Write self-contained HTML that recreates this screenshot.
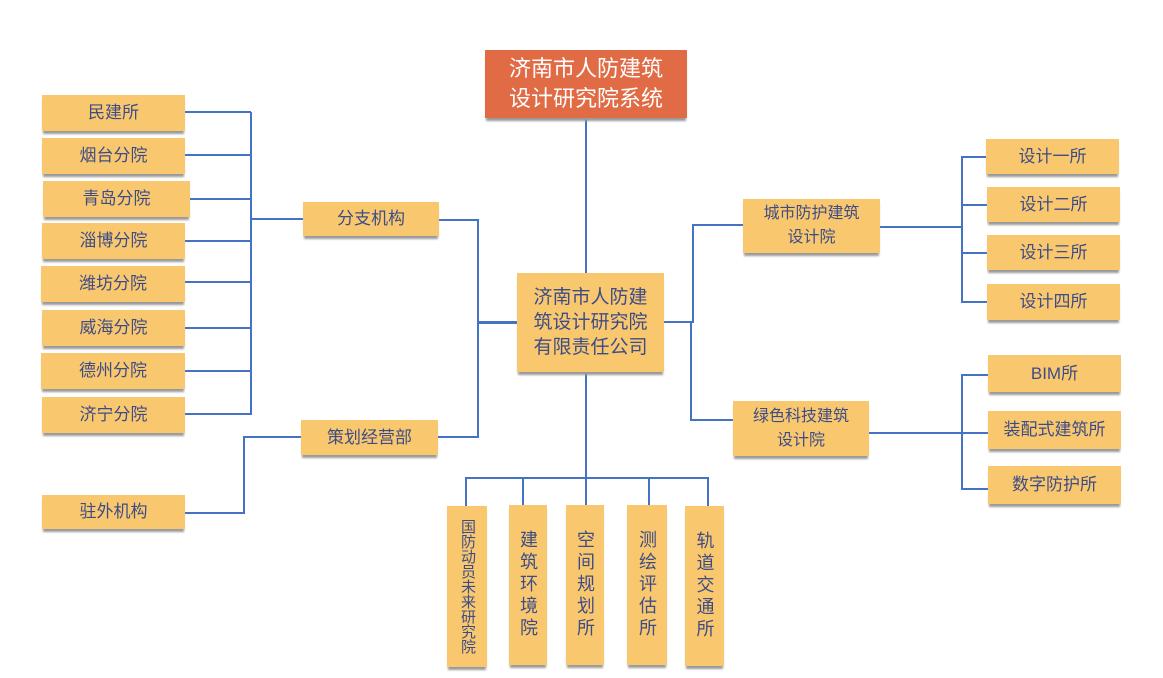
<!DOCTYPE html>
<html><head><meta charset="utf-8"><style>
body{margin:0;width:1163px;height:678px;background:#fff;position:relative;overflow:hidden;font-family:"Liberation Sans","Noto Sans CJK SC",sans-serif;}
.b{position:absolute;background:#F9C86E;color:#3E4C86;font-size:17px;display:flex;align-items:center;justify-content:center;text-align:center;line-height:24px;box-shadow:0 4px 2px -1px #9a9a9a;box-sizing:border-box}
.v{writing-mode:vertical-rl;letter-spacing:4px;line-height:20px;font-size:18px}
.l{position:absolute;background:#4472C4}
</style></head><body>
<div class="l" style="left:585px;top:118px;width:2px;height:155px"></div>
<div class="l" style="left:250px;top:112px;width:2px;height:303px"></div>
<div class="l" style="left:185px;top:111px;width:66px;height:2px"></div>
<div class="l" style="left:185px;top:154px;width:66px;height:2px"></div>
<div class="l" style="left:190px;top:198px;width:61px;height:2px"></div>
<div class="l" style="left:185px;top:240px;width:66px;height:2px"></div>
<div class="l" style="left:185px;top:281px;width:66px;height:2px"></div>
<div class="l" style="left:185px;top:327px;width:66px;height:2px"></div>
<div class="l" style="left:185px;top:370px;width:66px;height:2px"></div>
<div class="l" style="left:185px;top:413px;width:66px;height:2px"></div>
<div class="l" style="left:251px;top:218px;width:52px;height:2px"></div>
<div class="l" style="left:439px;top:219px;width:40px;height:2px"></div>
<div class="l" style="left:477px;top:219px;width:2px;height:219px"></div>
<div class="l" style="left:438px;top:436px;width:41px;height:2px"></div>
<div class="l" style="left:478px;top:321px;width:39px;height:3px"></div>
<div class="l" style="left:185px;top:512px;width:60px;height:2px"></div>
<div class="l" style="left:243px;top:436px;width:2px;height:78px"></div>
<div class="l" style="left:243px;top:436px;width:58px;height:2px"></div>
<div class="l" style="left:585px;top:372px;width:2px;height:106px"></div>
<div class="l" style="left:465px;top:477px;width:244px;height:2px"></div>
<div class="l" style="left:465px;top:477px;width:2px;height:29px"></div>
<div class="l" style="left:522px;top:477px;width:2px;height:28px"></div>
<div class="l" style="left:585px;top:477px;width:2px;height:28px"></div>
<div class="l" style="left:648px;top:477px;width:2px;height:28px"></div>
<div class="l" style="left:707px;top:477px;width:2px;height:29px"></div>
<div class="l" style="left:664px;top:321px;width:30px;height:2px"></div>
<div class="l" style="left:692px;top:224px;width:2px;height:98px"></div>
<div class="l" style="left:692px;top:224px;width:51px;height:2px"></div>
<div class="l" style="left:690px;top:321px;width:2px;height:100px"></div>
<div class="l" style="left:690px;top:419px;width:43px;height:2px"></div>
<div class="l" style="left:880px;top:226px;width:82px;height:2px"></div>
<div class="l" style="left:961px;top:156px;width:2px;height:147px"></div>
<div class="l" style="left:961px;top:156px;width:25px;height:2px"></div>
<div class="l" style="left:961px;top:204px;width:26px;height:2px"></div>
<div class="l" style="left:961px;top:252px;width:26px;height:2px"></div>
<div class="l" style="left:961px;top:301px;width:26px;height:2px"></div>
<div class="l" style="left:869px;top:432px;width:94px;height:2px"></div>
<div class="l" style="left:961px;top:374px;width:2px;height:116px"></div>
<div class="l" style="left:961px;top:374px;width:27px;height:2px"></div>
<div class="l" style="left:961px;top:432px;width:27px;height:2px"></div>
<div class="l" style="left:961px;top:488px;width:27px;height:2px"></div>
<div class="b" style="left:485px;top:50px;width:202px;height:68px;background:#E06B45;color:#fff;font-size:22px;line-height:30px">济南市人防建筑<br>设计研究院系统</div>
<div class="b" style="left:517px;top:273px;width:147px;height:99px;font-size:19px;line-height:25px">济南市人防建<br>筑设计研究院<br>有限责任公司</div>
<div class="b" style="left:42px;top:95px;width:143px;height:36px">民建所</div>
<div class="b" style="left:42px;top:138px;width:143px;height:36px">烟台分院</div>
<div class="b" style="left:43px;top:181px;width:147px;height:36px">青岛分院</div>
<div class="b" style="left:42px;top:223px;width:143px;height:36px">淄博分院</div>
<div class="b" style="left:41px;top:266px;width:144px;height:36px">潍坊分院</div>
<div class="b" style="left:42px;top:310px;width:143px;height:36px">威海分院</div>
<div class="b" style="left:41px;top:353px;width:144px;height:36px">德州分院</div>
<div class="b" style="left:42px;top:397px;width:143px;height:36px">济宁分院</div>
<div class="b" style="left:303px;top:202px;width:136px;height:34px">分支机构</div>
<div class="b" style="left:301px;top:420px;width:137px;height:35px">策划经营部</div>
<div class="b" style="left:42px;top:495px;width:143px;height:34px">驻外机构</div>
<div class="b v" style="left:447px;top:506px;width:40px;height:161px;font-size:15px;line-height:18px;letter-spacing:0">国防动员未来研究院</div>
<div class="b v" style="left:509px;top:505px;width:38px;height:160px">建筑环境院</div>
<div class="b v" style="left:566px;top:505px;width:38px;height:160px">空间规划所</div>
<div class="b v" style="left:627px;top:505px;width:40px;height:160px">测绘评估所</div>
<div class="b v" style="left:685px;top:506px;width:39px;height:160px">轨道交通所</div>
<div class="b" style="left:743px;top:199px;width:137px;height:54px;font-size:16px">城市防护建筑<br>设计院</div>
<div class="b" style="left:733px;top:401px;width:136px;height:55px;font-size:16px">绿色科技建筑<br>设计院</div>
<div class="b" style="left:986px;top:139px;width:133px;height:35px">设计一所</div>
<div class="b" style="left:987px;top:187px;width:133px;height:35px">设计二所</div>
<div class="b" style="left:987px;top:235px;width:133px;height:35px">设计三所</div>
<div class="b" style="left:987px;top:284px;width:133px;height:36px">设计四所</div>
<div class="b" style="left:988px;top:355px;width:133px;height:37px">BIM所</div>
<div class="b" style="left:988px;top:411px;width:133px;height:38px">装配式建筑所</div>
<div class="b" style="left:988px;top:466px;width:133px;height:38px">数字防护所</div>
</body></html>
